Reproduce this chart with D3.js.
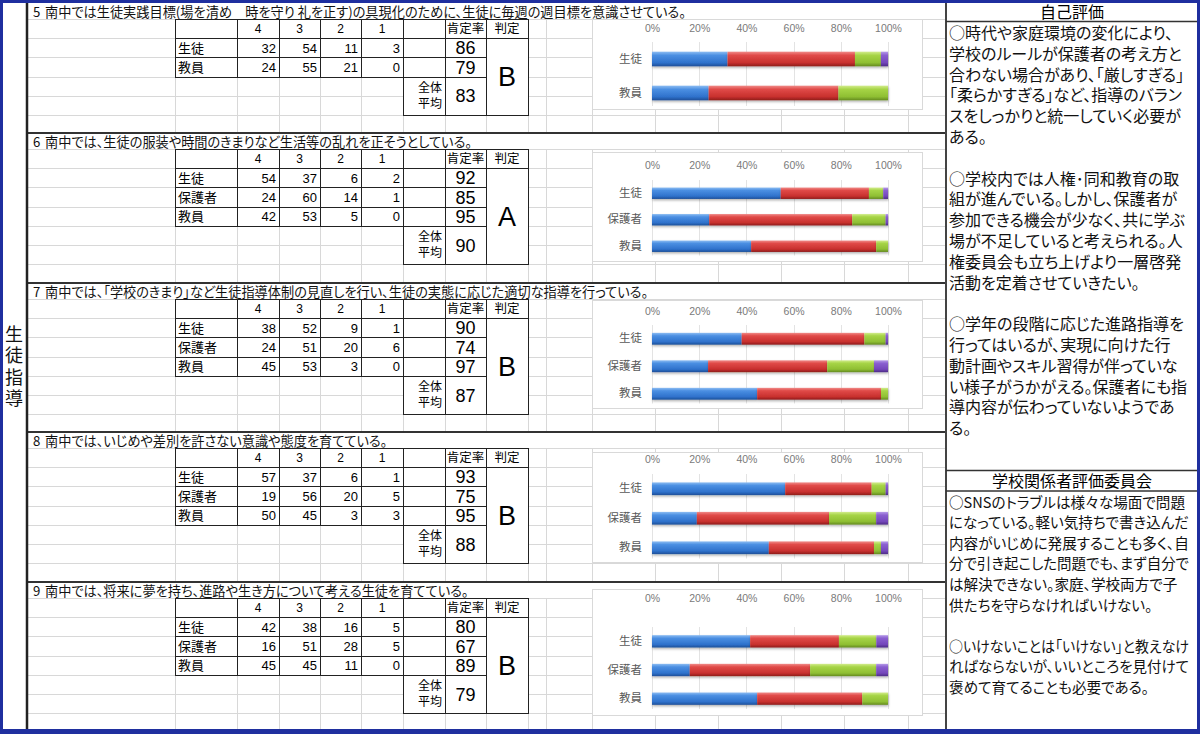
<!DOCTYPE html>
<html><head><meta charset="utf-8">
<script src="https://cdn.jsdelivr.net/npm/d3@7"></script>
<style>
html,body{margin:0;padding:0;background:#fff;}
svg{display:block;font-family:"Noto Sans CJK JP","Noto Sans",sans-serif;font-feature-settings:"palt";}
</style></head><body>
<svg id="c" width="1200" height="734"></svg>
<script>
// ---------------- data ----------------
const sectionNumbers = ["5","6","7","8","9"];
const sectionTitles = [
  "南中では生徒実践目標(場を清め　時を守り 礼を正す)の具現化のために、生徒に毎週の週目標を意識させている。",
  "南中では、生徒の服装や時間のきまりなど生活等の乱れを正そうとしている。",
  "南中では、「学校のきまり」など生徒指導体制の見直しを行い、生徒の実態に応じた適切な指導を行っている。",
  "南中では、いじめや差別を許さない意識や態度を育てている。",
  "南中では、将来に夢を持ち、進路や生き方について考える生徒を育てている。"
];
const scoreLabels = ["4","3","2","1"];
const headerRate = "肯定率";
const headerGrade = "判定";
const avgLabel = ["全体","平均"];
const groupsTwo = ["生徒","教員"];
const groupsThree = ["生徒","保護者","教員"];
const values5 = [[32,54,11,3],[24,55,21,0]];
const values6 = [[54,37,6,2],[24,60,14,1],[42,53,5,0]];
const values7 = [[38,52,9,1],[24,51,20,6],[45,53,3,0]];
const values8 = [[57,37,6,1],[19,56,20,5],[50,45,3,3]];
const values9 = [[42,38,16,5],[16,51,28,5],[45,45,11,0]];
const rates5 = [86,79];
const rates6 = [92,85,95];
const rates7 = [90,74,97];
const rates8 = [93,75,95];
const rates9 = [80,67,89];
const averages = [83,90,87,88,79];
const grades = ["B","A","B","B","B"];
const tickValues = [0,0.2,0.4,0.6,0.8,1];
const tickLabels = ["0%","20%","40%","60%","80%","100%"];
const sideCategory = "生徒指導";
const panel1Title = "自己評価";
const panel1Lines = ["○時代や家庭環境の変化により、","学校のルールが保護者の考え方と","合わない場合があり、「厳しすぎる」","「柔らかすぎる」など、指導のバラン","スをしっかりと統一していく必要が","ある。","","○学校内では人権･同和教育の取","組が進んでいる。しかし、保護者が","参加できる機会が少なく、共に学ぶ","場が不足していると考えられる。人","権委員会も立ち上げより一層啓発","活動を定着させていきたい。","","○学年の段階に応じた進路指導を","行ってはいるが、実現に向けた行","動計画やスキル習得が伴っていな","い様子がうかがえる。保護者にも指","導内容が伝わっていないようであ","る。"];
const panel2Title = "学校関係者評価委員会";
const panel2Lines = ["○SNSのトラブルは様々な場面で問題","になっている。軽い気持ちで書き込んだ","内容がいじめに発展することも多く、自","分で引き起こした問題でも、まず自分で","は解決できない。家庭、学校両方で子","供たちを守らなければいけない。","","○いけないことは「いけない」と教えなけ","ればならないが、いいところを見付けて","褒めて育てることも必要である。"];

const sectionGroups = [groupsTwo, groupsThree, groupsThree, groupsThree, groupsThree];
const sectionValues = [values5, values6, values7, values8, values9];
const sectionRates = [rates5, rates6, rates7, rates8, rates9];

// ---------------- layout / style ----------------
const sectionTops = [3,133,283,432,582];
const boxY = [[19,109],[152,261],[300,408],[452,562],[589,715]];
const bandY = [[42,110],[180,259.5],[325,407.5],[474,562.5],[627,713]];
const tickY = [28,165,311,459,598];
const colEdges = [175,237,279,320,361,403,445,486,528];
const gridCols = colEdges.concat([546,592,655,718,781,844,908]);
const rh = 19.2;
const FONT = '"Noto Sans CJK JP","Noto Sans",sans-serif';
const NUMFONT = '"Liberation Sans Narrow","Liberation Sans",Arial,sans-serif';
const grads = [
  ["#8cbcf2","#4b8fe2","#2f72cc","#1d4f98"],
  ["#f08a88","#e04a48","#c8302e","#8e1c1b"],
  ["#d2ec8c","#a6d446","#8fbf33","#648a20"],
  ["#b59ae8","#8a5fd0","#7447bb","#4d2c86"]
];

const svg = d3.select("#c");
const defs = svg.append("defs");
grads.forEach((g,i)=>{
  const lg = defs.append("linearGradient").attr("id","g"+i).attr("x1",0).attr("y1",0).attr("x2",0).attr("y2",1);
  lg.append("stop").attr("offset","0%").attr("stop-color",g[0]);
  lg.append("stop").attr("offset","25%").attr("stop-color",g[1]);
  lg.append("stop").attr("offset","75%").attr("stop-color",g[2]);
  lg.append("stop").attr("offset","100%").attr("stop-color",g[3]);
});
const sh = defs.append("filter").attr("id","sh").attr("x","-5%").attr("y","-30%").attr("width","110%").attr("height","180%");
sh.append("feDropShadow").attr("dx",0.5).attr("dy",1.5).attr("stdDeviation",1).attr("flood-color","#000").attr("flood-opacity",0.3);

svg.append("rect").attr("width",1200).attr("height",734).attr("fill","#fff");

function fit(sel, maxW){
  sel.each(function(){
    const w = this.getComputedTextLength();
    if (w > maxW) d3.select(this).attr("textLength",maxW).attr("lengthAdjust","spacingAndGlyphs");
  });
}

// background spreadsheet grid
const grid = svg.append("g").attr("stroke","#d8d8d8").attr("stroke-width",1);
sectionTops.forEach((top,i)=>{
  const bottom = i<4 ? sectionTops[i+1] : 731;
  const tTop = top+16;
  for (let k=0;k<8;k++){
    const y = Math.round(tTop + rh*k)+0.5;
    if (y < bottom-2) grid.append("line").attr("x1",28).attr("x2",946).attr("y1",y).attr("y2",y);
  }
  gridCols.forEach(x=>grid.append("line").attr("x1",x+0.5).attr("x2",x+0.5).attr("y1",tTop).attr("y2",bottom));
});

// sections
sectionTops.forEach((top,i)=>{
  const groups = sectionGroups[i], vals = sectionValues[i], rates = sectionRates[i];
  const n = groups.length;
  const tTop = top+16;
  const g = svg.append("g");
  // title
  g.append("text").attr("x",33).attr("y",top+13.5).attr("font-size",13.2).attr("fill","#111").text(sectionNumbers[i]);
  g.append("text").attr("x",45).attr("y",top+13.5).attr("font-size",13.2).attr("fill","#111").text(sectionTitles[i]);

  const cell = (x0,x1,y0,y1)=>g.append("rect").attr("x",x0+0.5).attr("y",Math.round(y0)+0.5)
      .attr("width",x1-x0).attr("height",Math.round(y1)-Math.round(y0)).attr("fill","#fff").attr("stroke","#222").attr("stroke-width",1);
  // header row
  for (let c=0;c<8;c++) cell(colEdges[c],colEdges[c+1],tTop,tTop+rh);
  scoreLabels.forEach((s,k)=>{
    g.append("text").attr("x",(colEdges[k+1]+colEdges[k+2])/2).attr("y",tTop+rh/2+4.5)
      .attr("text-anchor","middle").attr("font-size",12).attr("font-family",NUMFONT).text(s);
  });
  g.append("text").attr("x",(colEdges[6]+colEdges[7])/2).attr("y",tTop+rh/2+4.5).attr("text-anchor","middle").attr("font-size",12.5).text(headerRate);
  g.append("text").attr("x",(colEdges[7]+colEdges[8])/2).attr("y",tTop+rh/2+4.5).attr("text-anchor","middle").attr("font-size",12.5).text(headerGrade);
  // data rows
  groups.forEach((grp,r)=>{
    const y0 = tTop+rh*(r+1), y1 = y0+rh;
    for (let c=0;c<7;c++) cell(colEdges[c],colEdges[c+1],y0,y1);
    g.append("text").attr("x",colEdges[0]+3).attr("y",y0+rh/2+5).attr("font-size",13).text(grp);
    vals[r].forEach((v,k)=>{
      g.append("text").attr("x",colEdges[k+2]-3).attr("y",y0+rh/2+5).attr("text-anchor","end")
        .attr("font-size",13).attr("font-family",NUMFONT).text(v);
    });
    g.append("text").attr("x",(colEdges[6]+colEdges[7])/2).attr("y",y0+rh/2+6.5).attr("text-anchor","middle")
      .attr("font-size",18).attr("font-family",NUMFONT).text(rates[r]);
  });
  // average
  const ay0 = tTop+rh*(n+1), ay1 = ay0+rh*2;
  cell(colEdges[5],colEdges[6],ay0,ay1);
  cell(colEdges[6],colEdges[7],ay0,ay1);
  avgLabel.forEach((s,k)=>g.append("text").attr("x",colEdges[6]-3).attr("y",ay0+15+k*16).attr("text-anchor","end").attr("font-size",12).text(s));
  g.append("text").attr("x",(colEdges[6]+colEdges[7])/2).attr("y",(ay0+ay1)/2+6.5).attr("text-anchor","middle")
    .attr("font-size",18).attr("font-family",NUMFONT).text(averages[i]);
  // grade
  cell(colEdges[7],colEdges[8],tTop+rh,ay1);
  g.append("text").attr("x",(colEdges[7]+colEdges[8])/2).attr("y",(tTop+rh+ay1)/2+9.5).attr("text-anchor","middle")
    .attr("font-size",27).attr("font-family",'"Liberation Sans",Arial,sans-serif').text(grades[i]);

  // chart
  const [b0,b1] = boxY[i];
  g.append("rect").attr("x",592.5).attr("y",b0+0.5).attr("width",330).attr("height",b1-b0).attr("fill","#fff").attr("stroke","#d9d9d9");
  const x = d3.scaleLinear().domain([0,1]).range([652,888]);
  const y = d3.scaleBand().domain(groups).range(bandY[i]).padding(0);
  const step = y.step(), bh = step*0.43;
  g.append("g").selectAll("line").data(tickValues).join("line")
    .attr("x1",d=>Math.round(x(d))+0.5).attr("x2",d=>Math.round(x(d))+0.5)
    .attr("y1",bandY[i][0]).attr("y2",bandY[i][1]-4).attr("stroke","#e3e3e3");
  const ax = g.append("g").attr("transform",`translate(0,${tickY[i]+4})`)
    .call(d3.axisTop(x).tickValues(tickValues).tickFormat((d,k)=>tickLabels[k]).tickSize(0).tickPadding(0));
  ax.select(".domain").remove();
  ax.selectAll("text").attr("font-size",10.5).attr("fill","#7a7a7a").attr("font-family",'"Liberation Sans",Arial,sans-serif');
  const ay = g.append("g").attr("transform","translate(652,0)")
    .call(d3.axisLeft(y).tickSize(0).tickPadding(10));
  ay.select(".domain").remove();
  ay.selectAll("text").attr("font-size",11.5).attr("fill","#595959").attr("font-family",FONT);
  const rows = vals.map(v=>{const s=d3.sum(v); return v.map(d=>d/s);});
  const stack = d3.stack().keys([0,1,2,3])(rows);
  stack.forEach((layer,k)=>{
    g.append("g").attr("filter","url(#sh)").selectAll("rect").data(layer).join("rect")
      .attr("x",d=>x(d[0])).attr("width",d=>Math.max(0,x(d[1])-x(d[0])))
      .attr("y",(d,r)=>y(groups[r])+step/2-bh/2).attr("height",bh)
      .attr("fill",`url(#g${k})`);
  });
});

// section boundaries
[133,283,432,582].forEach(yv=>svg.append("line").attr("x1",27).attr("x2",946).attr("y1",yv).attr("y2",yv).attr("stroke","#333").attr("stroke-width",2));

// left category column
svg.append("line").attr("x1",27).attr("x2",27).attr("y1",0).attr("y2",734).attr("stroke","#222").attr("stroke-width",2.5);
svg.append("text").attr("x",14).attr("y",325).attr("font-size",18).attr("fill","#111")
  .style("writing-mode","vertical-rl").style("font-feature-settings","normal").attr("letter-spacing",3.5).text(sideCategory);

// right panel
svg.append("line").attr("x1",946).attr("x2",946).attr("y1",0).attr("y2",734).attr("stroke","#444").attr("stroke-width",2);
svg.append("text").attr("x",1072).attr("y",18).attr("text-anchor","middle").attr("font-size",16).text(panel1Title);
svg.append("line").attr("x1",946).attr("x2",1198).attr("y1",21.5).attr("y2",21.5).attr("stroke","#333").attr("stroke-width",1.5);
const p1 = svg.append("g").selectAll("text").data(panel1Lines).join("text")
  .attr("x",949).attr("y",(d,k)=>39+20.8*k).attr("font-size",16).attr("fill","#111").text(d=>d);
fit(p1, 244);
svg.append("line").attr("x1",946).attr("x2",1198).attr("y1",470.5).attr("y2",470.5).attr("stroke","#333").attr("stroke-width",1.5);
svg.append("line").attr("x1",946).attr("x2",1198).attr("y1",491).attr("y2",491).attr("stroke","#333").attr("stroke-width",1.5);
svg.append("text").attr("x",1072).attr("y",487).attr("text-anchor","middle").attr("font-size",16).text(panel2Title);
const p2 = svg.append("g").selectAll("text").data(panel2Lines).join("text")
  .attr("x",949).attr("y",(d,k)=>507.5+20.6*k).attr("font-size",14.6).attr("fill","#111").text(d=>d);
fit(p2, 240);

// outer frame
svg.append("rect").attr("x",1.5).attr("y",1.5).attr("width",1197).attr("height",731).attr("fill","none").attr("stroke","#1f2f9f").attr("stroke-width",3);
svg.append("rect").attr("x",0).attr("y",729).attr("width",1200).attr("height",5).attr("fill","#1f2f9f");
</script></body></html>
